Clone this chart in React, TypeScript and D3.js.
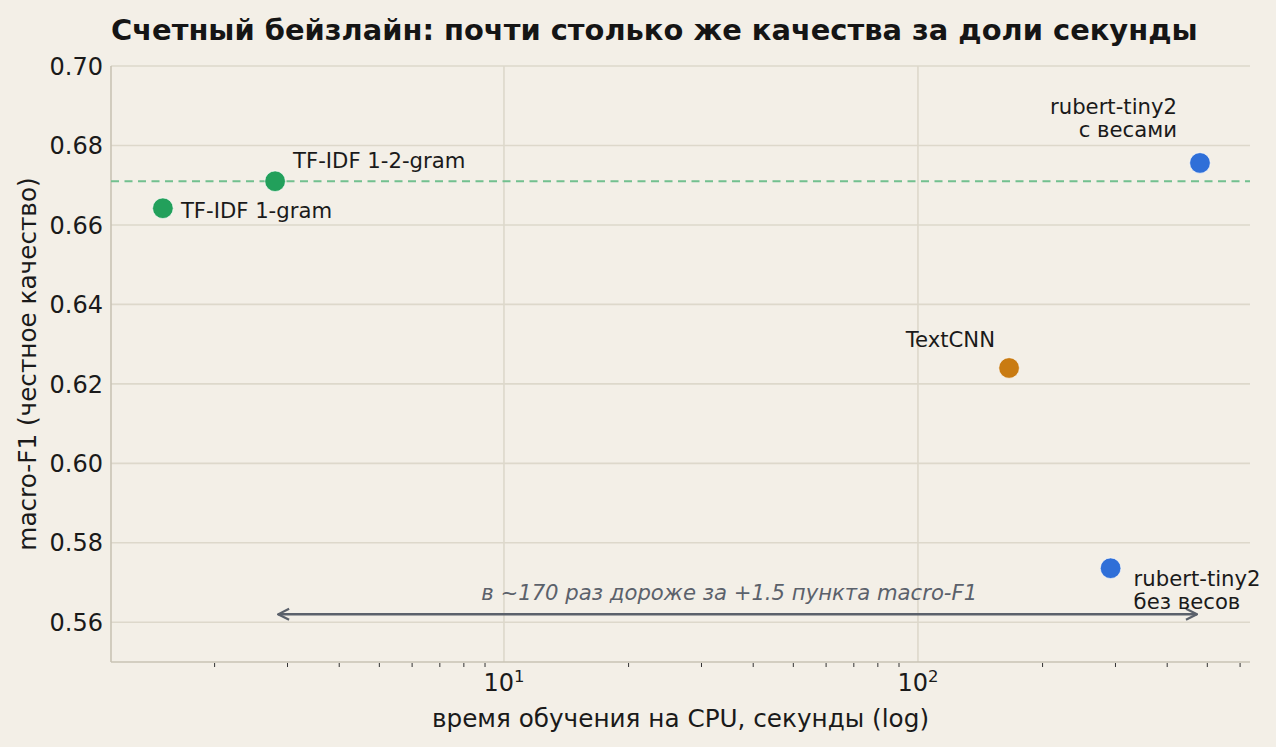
import React, { useEffect } from 'react';
import * as d3 from 'd3';

// values
const models = ['TF-IDF 1-gram', 'TF-IDF 1-2-gram', 'TextCNN', 'rubert-tiny2 без весов', 'rubert-tiny2 с весами'];
const trainSeconds = [1.5, 2.8, 166, 292, 480];
const macroF1 = [0.6642, 0.671, 0.624, 0.5736, 0.6756];
const pointColors = ['#22a05b', '#22a05b', '#c97b12', '#2f6fd8', '#2f6fd8'];
const labelLines = [['TF-IDF 1-gram'], ['TF-IDF 1-2-gram'], ['TextCNN'], ['rubert-tiny2', 'без весов'], ['rubert-tiny2', 'с весами']];
const yTicks = [0.56, 0.58, 0.6, 0.62, 0.64, 0.66, 0.68, 0.7];
const xMajor = [10, 100];
const baselineF1 = 0.671;
const arrowFrom = 480;
const arrowTo = 2.8;
const arrowY = 0.562;
const arrowNote = 'в ~170 раз дороже за +1.5 пункта macro-F1';
const arrowNoteX = 35;
const arrowNoteY = 0.5675;

const W = 1276;
const H = 747;
const margin = { top: 66, right: 26, bottom: 85, left: 111 };
const FONT = '"DejaVu Sans", sans-serif';
const BG = '#f3efe7';

// label offsets in px from the point: dx, dy of first line, anchor
const labelPlace: [number, number, string][] = [
  [18, 2, 'start'],
  [18, -21, 'start'],
  [-14, -29, 'end'],
  [23, 10, 'start'],
  [-23, -57, 'end'],
];

export default function App() {
  useEffect(() => {
    document.body.style.margin = '0';
    document.body.style.background = BG;
  }, []);

  const x = d3.scaleLog().domain([1.124, 634]).range([margin.left, W - margin.right]);
  const y = d3.scaleLinear().domain([0.55, 0.7]).range([H - margin.bottom, margin.top]);
  const [x0, x1] = x.range();
  const [yb, yt] = y.range();

  const minor = x.ticks().filter(t => !xMajor.includes(t) && t >= 1.124 && t <= 634 && t !== 1);
  const shrink = 3; // arrow ends stop short of the data points

  return (
    <svg width={W} height={H} style={{ display: 'block', background: BG, fontFamily: FONT }}>
      <defs>
        <marker id="arrowHead" viewBox="0 0 14 14" refX="13" refY="7" markerWidth="14" markerHeight="14"
          markerUnits="userSpaceOnUse" orient="auto-start-reverse">
          <path d="M 2 1.5 L 13 7 L 2 12.5" fill="none" stroke="#5b616b" strokeWidth={2.2} />
        </marker>
      </defs>
      <rect width={W} height={H} fill={BG} />

      {/* grid */}
      {yTicks.map(t => (
        <line key={'gy' + t} x1={x0} x2={x1} y1={y(t)} y2={y(t)} stroke="#ddd8cb" strokeWidth={1.6} />
      ))}
      {xMajor.map(t => (
        <line key={'gx' + t} x1={x(t)} x2={x(t)} y1={yb} y2={yt} stroke="#ddd8cb" strokeWidth={1.6} />
      ))}

      {/* spines */}
      <line x1={x0} x2={x0} y1={yt} y2={yb} stroke="#c9c3b5" strokeWidth={1.6} />
      <line x1={x0} x2={x1} y1={yb} y2={yb} stroke="#c9c3b5" strokeWidth={1.6} />

      {/* minor ticks */}
      {minor.map(t => (
        <line key={'mt' + t} x1={x(t)} x2={x(t)} y1={yb + 1} y2={yb + 5} stroke="#333" strokeWidth={1} />
      ))}

      {/* y tick labels */}
      {yTicks.map(t => (
        <text key={'yl' + t} x={x0 - 8} y={y(t)} dy="0.36em" textAnchor="end" fontSize={24} fill="#1a1a1a">
          {t.toFixed(2)}
        </text>
      ))}

      {/* x tick labels */}
      {xMajor.map((t, i) => (
        <text key={'xl' + t} x={x(t)} y={yb + 29} textAnchor="middle" fontSize={24} fill="#1a1a1a">
          10<tspan dy={-9} fontSize={16.5}>{i + 1}</tspan>
        </text>
      ))}

      {/* axis labels */}
      <text x={(x0 + x1) / 2} y={yb + 65} textAnchor="middle" fontSize={24.7} fill="#1a1a1a">
        время обучения на CPU, секунды (log)
      </text>
      <text transform={`translate(27,${(yt + yb) / 2}) rotate(-90)`} dy="0.36em" textAnchor="middle" fontSize={24.7} fill="#1a1a1a">
        macro-F1 (честное качество)
      </text>

      {/* title */}
      <text x={x0} y={40} fontSize={28.9} fontWeight="bold" fill="#151515">
        Счетный бейзлайн: почти столько же качества за доли секунды
      </text>

      {/* baseline dashed */}
      <line x1={x0} x2={x1} y1={y(baselineF1)} y2={y(baselineF1)} stroke="#72c08f" strokeWidth={2}
        strokeDasharray="8 5.5" />

      {/* arrow */}
      <line x1={x(arrowFrom) - shrink} x2={x(arrowTo) + shrink} y1={y(arrowY)} y2={y(arrowY)} stroke="#5b616b" strokeWidth={2.4}
        markerStart="url(#arrowHead)" markerEnd="url(#arrowHead)" />
      <text x={x(arrowNoteX)} y={y(arrowNoteY)} dy="0.36em" textAnchor="middle" fontSize={21.2} fontStyle="italic"
        fill="#5b616b">
        {arrowNote}
      </text>

      {/* points */}
      {models.map((m, i) => (
        <circle key={m} cx={x(trainSeconds[i])} cy={y(macroF1[i])} r={10.3} fill={pointColors[i]}
          stroke="#ffffff" strokeOpacity={0.6} strokeWidth={1} />
      ))}

      {/* labels */}
      {models.map((m, i) => {
        const [dx, dy, anchor] = labelPlace[i];
        return (
          <text key={'lab' + m} x={x(trainSeconds[i]) + dx} y={y(macroF1[i]) + dy}
            textAnchor={anchor} fontSize={21.2} fill="#1a1a1a">
            {labelLines[i].map((ln, k) => (
              <tspan key={k} x={x(trainSeconds[i]) + dx} dy={k === 0 ? '0.36em' : 23.5}>{ln}</tspan>
            ))}
          </text>
        );
      })}
    </svg>
  );
}
